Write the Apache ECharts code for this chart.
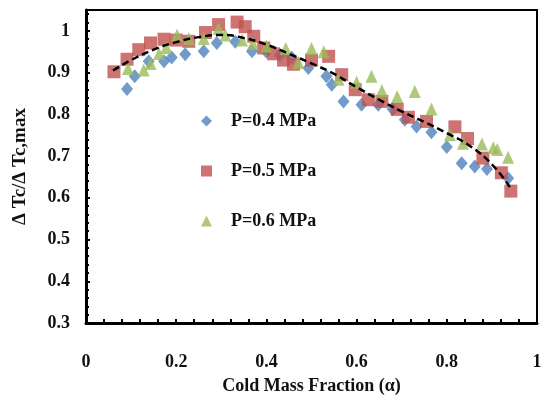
<!DOCTYPE html>
<html><head><meta charset="utf-8">
<script src="https://cdn.jsdelivr.net/npm/echarts@6/dist/echarts.min.js"></script>
<style>html,body{margin:0;padding:0;background:#fff}#c{width:548px;height:406px}</style>
</head><body><div id="c"></div>
<script>
const seriesNames = ['P=0.4 MPa', 'P=0.5 MPa', 'P=0.6 MPa'];
const seriesColors = ['#4F81BD', '#C0504D', '#9BBB59'];

const p04X = [0.091, 0.108, 0.139, 0.173, 0.19, 0.22, 0.261, 0.29, 0.331, 0.368, 0.40, 0.43, 0.456, 0.493, 0.533, 0.545, 0.571, 0.611, 0.648, 0.68, 0.707, 0.733, 0.766, 0.80, 0.833, 0.862, 0.889, 0.936];
const p04Y = [0.861, 0.891, 0.927, 0.927, 0.936, 0.944, 0.951, 0.971, 0.974, 0.951, 0.950, 0.942, 0.936, 0.911, 0.891, 0.871, 0.831, 0.823, 0.823, 0.812, 0.787, 0.771, 0.757, 0.722, 0.683, 0.675, 0.669, 0.647];

const p05X = [0.062, 0.091, 0.117, 0.143, 0.173, 0.20, 0.228, 0.265, 0.294, 0.335, 0.353, 0.372, 0.394, 0.416, 0.438, 0.46, 0.50, 0.538, 0.567, 0.597, 0.626, 0.656, 0.69, 0.715, 0.755, 0.818, 0.846, 0.88, 0.921, 0.942];
const p05Y = [0.902, 0.932, 0.955, 0.971, 0.980, 0.978, 0.975, 0.996, 1.015, 1.021, 1.010, 0.987, 0.959, 0.945, 0.930, 0.920, 0.930, 0.939, 0.895, 0.859, 0.835, 0.831, 0.812, 0.793, 0.783, 0.770, 0.742, 0.695, 0.660, 0.616];

const p06X = [0.093, 0.128, 0.143, 0.162, 0.178, 0.202, 0.228, 0.261, 0.294, 0.309, 0.346, 0.37, 0.40, 0.443, 0.471, 0.50, 0.527, 0.56, 0.60, 0.633, 0.656, 0.69, 0.729, 0.766, 0.807, 0.836, 0.878, 0.903, 0.912, 0.936];
const p06Y = [0.910, 0.906, 0.922, 0.946, 0.960, 0.990, 0.982, 0.982, 1.006, 0.990, 0.978, 0.970, 0.963, 0.958, 0.924, 0.958, 0.950, 0.884, 0.877, 0.891, 0.857, 0.843, 0.855, 0.813, 0.751, 0.731, 0.729, 0.720, 0.716, 0.697];

const fitX = [0.06, 0.10, 0.15, 0.20, 0.25, 0.30, 0.35, 0.40, 0.45, 0.50, 0.55, 0.60, 0.65, 0.70, 0.75, 0.80, 0.85, 0.90, 0.94];
const fitY = [0.905, 0.930, 0.955, 0.973, 0.985, 0.990, 0.983, 0.967, 0.945, 0.922, 0.897, 0.865, 0.835, 0.807, 0.782, 0.755, 0.725, 0.680, 0.625];

const xTickInterval = 0.2;
const yTickInterval = 0.1;

const pair = (xs, ys) => xs.map((x, i) => [x, ys[i]]);
const font = 'Liberation Serif';
const txt = { fontFamily: font, fontWeight: 'bold', color: '#111' };

const chart = echarts.init(document.getElementById('c'), null, { renderer: 'canvas' });
chart.setOption({
  animation: false,
  backgroundColor: '#fff',
  grid: { left: 86, right: 11, top: 10, bottom: 83, show: true, borderColor: '#000', borderWidth: 2 },
  legend: {
    orient: 'vertical', left: 196, top: 107, itemGap: 32,
    itemWidth: 11, itemHeight: 11,
    data: seriesNames,
    textStyle: Object.assign({ fontSize: 18, padding: [0, 0, 0, 14] }, txt)
  },
  xAxis: {
    type: 'value', min: 0, max: 1, interval: xTickInterval,
    name: 'Cold Mass Fraction (α)', nameLocation: 'middle', nameGap: 54,
    nameTextStyle: Object.assign({ fontSize: 18 }, txt),
    axisLine: { lineStyle: { color: '#000', width: 3 } },
    axisTick: { inside: true, length: 4, lineStyle: { color: '#000', width: 2 } },
    minorTick: { show: true, splitNumber: 5, length: 4, lineStyle: { color: '#000', width: 2 } },
    splitLine: { show: false },
    axisLabel: Object.assign({ margin: 30, fontSize: 18 }, txt)
  },
  yAxis: {
    type: 'value', min: 0.3, max: 1.05, interval: yTickInterval,
    name: 'Δ Tc/Δ Tc,max', nameLocation: 'middle', nameGap: 56,
    nameTextStyle: Object.assign({ fontSize: 19 }, txt),
    axisLine: { lineStyle: { color: '#000', width: 3 } },
    axisTick: { inside: true, length: 4, lineStyle: { color: '#000', width: 2 } },
    minorTick: { show: true, splitNumber: 5, length: 3, lineStyle: { color: '#000', width: 2 } },
    splitLine: { show: false },
    axisLabel: Object.assign({ margin: 16, fontSize: 18, showMaxLabel: false }, txt)
  },
  series: [
    { name: seriesNames[0], type: 'scatter', symbol: 'diamond', symbolSize: [12, 14], itemStyle: { color: seriesColors[0] }, data: pair(p04X, p04Y), z: 2 },
    { name: seriesNames[1], type: 'scatter', symbol: 'rect', symbolSize: 13, itemStyle: { color: seriesColors[1] }, data: pair(p05X, p05Y), z: 3 },
    { name: seriesNames[2], type: 'scatter', symbol: 'triangle', symbolSize: [12, 13], itemStyle: { color: seriesColors[2] }, data: pair(p06X, p06Y), z: 4 },
    { name: 'fit', type: 'line', smooth: true, showSymbol: false, data: pair(fitX, fitY), lineStyle: { color: '#000', width: 2.5, type: [7, 4] }, z: 5 }
  ]
});
</script>
</body></html>
